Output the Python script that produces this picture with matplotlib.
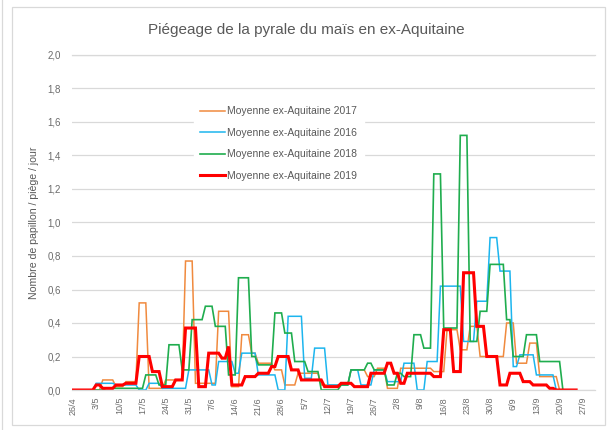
import numpy as np
import matplotlib
matplotlib.use("Agg")
import matplotlib.pyplot as plt
from matplotlib.lines import Line2D

plt.rcParams["font.family"] = ["Liberation Sans", "DejaVu Sans"]

N_DAYS = 153  # daily points from 26/4 onwards

tick_labels = ["26/4", "3/5", "10/5", "17/5", "24/5", "31/5", "7/6", "14/6",
               "21/6", "28/6", "5/7", "12/7", "19/7", "26/7", "2/8", "9/8",
               "16/8", "23/8", "30/8", "6/9", "13/9", "20/9", "27/9"]

# step series: day index where a new trap reading starts, and its value
starts_2017 = [0, 9, 13, 16, 20, 23, 28, 34, 37, 44, 48, 51, 54, 56, 61, 64, 68,
               75, 84, 89, 92, 95, 99, 109, 113, 117, 120, 123, 131, 134, 138,
               141, 147]
values_2017 = [0.0, 0.06, 0.02, 0.05, 0.52, 0.01, 0.06, 0.77, 0.04, 0.47, 0.02,
               0.33, 0.22, 0.16, 0.12, 0.03, 0.10, 0.03, 0.12, 0.08, 0.13, 0.01,
               0.13, 0.11, 0.36, 0.24, 0.38, 0.20, 0.40, 0.16, 0.28, 0.08, 0.0]

starts_2016 = [0, 7, 13, 20, 23, 27, 35, 42, 44, 49, 51, 56, 62, 65, 70, 73, 77,
               84, 87, 91, 95, 100, 104, 107, 111, 118, 122, 126, 129, 133, 135,
               140, 146]
values_2016 = [0.0, 0.04, 0.03, 0.0, 0.04, 0.01, 0.12, 0.03, 0.17, 0.10, 0.22,
               0.09, 0.0, 0.44, 0.07, 0.25, 0.03, 0.12, 0.03, 0.12, 0.05, 0.16,
               0.0, 0.17, 0.62, 0.29, 0.53, 0.91, 0.71, 0.14, 0.21, 0.09, 0.0]

starts_2018 = [0, 10, 22, 26, 29, 33, 36, 40, 43, 47, 50, 54, 56, 61, 64, 67, 71,
               75, 81, 84, 89, 91, 95, 98, 100, 103, 106, 109, 112, 117, 120,
               123, 126, 131, 133, 137, 141, 148]
values_2018 = [0.0, 0.01, 0.09, 0.03, 0.27, 0.12, 0.42, 0.50, 0.38, 0.09, 0.67,
               0.20, 0.15, 0.46, 0.34, 0.17, 0.11, 0.0, 0.03, 0.12, 0.16, 0.12,
               0.03, 0.10, 0.08, 0.33, 0.25, 1.29, 0.37, 1.52, 0.29, 0.47, 0.75,
               0.42, 0.20, 0.33, 0.17, 0.0]

starts_2019 = [0, 7, 9, 13, 16, 20, 24, 27, 31, 34, 38, 41, 45, 47, 48, 52, 56,
               60, 62, 66, 69, 76, 81, 85, 90, 95, 97, 99, 101, 109, 112, 115,
               118, 122, 125, 129, 132, 136, 139, 144, 146]
values_2019 = [0.0, 0.03, 0.01, 0.03, 0.04, 0.20, 0.11, 0.02, 0.06, 0.37, 0.02,
               0.22, 0.19, 0.26, 0.03, 0.08, 0.10, 0.14, 0.20, 0.12, 0.06, 0.02,
               0.04, 0.02, 0.10, 0.16, 0.10, 0.04, 0.10, 0.08, 0.36, 0.11, 0.70,
               0.38, 0.20, 0.03, 0.10, 0.05, 0.03, 0.01, 0.0]

series = [
    ("Moyenne ex-Aquitaine 2017", starts_2017, values_2017, "#F08A3E", 1.1),
    ("Moyenne ex-Aquitaine 2016", starts_2016, values_2016, "#1CB5EE", 1.1),
    ("Moyenne ex-Aquitaine 2018", starts_2018, values_2018, "#1FAD4E", 1.2),
    ("Moyenne ex-Aquitaine 2019", starts_2019, values_2019, "#FF0000", 2.2),
]


def daily(starts, values):
    """Hold each reading until the next one starts."""
    lengths = np.diff(starts + [N_DAYS])
    return np.repeat(values, lengths)


fig = plt.figure(figsize=(6.13, 4.30), dpi=100, facecolor="white")
ax = fig.add_axes([72 / 613, 1 - 390 / 430, 523 / 613, 335 / 430])

days = np.arange(N_DAYS)
for label, st, vals, color, lw in series:
    ax.plot(days, daily(st, vals), color=color, lw=lw, label=label,
            solid_joinstyle="miter")

ax.set_xlim(-0.3, 157.7)
ax.set_ylim(0, 2.0)
ax.set_yticks(np.arange(0, 2.01, 0.2))
ax.set_yticklabels([f"{v:.1f}".replace(".", ",") for v in np.arange(0, 2.01, 0.2)])
ax.set_xticks(np.arange(0, 7 * len(tick_labels), 7))
ax.set_xticklabels(tick_labels, rotation=90)
ax.tick_params(axis="y", length=0, pad=8, labelsize=7, labelcolor="#6b6b6b")
ax.tick_params(axis="x", length=0, pad=5, labelsize=6.5, labelcolor="#6b6b6b")
ax.grid(axis="y", color="#D9D9D9", lw=0.9)
ax.set_axisbelow(True)
for side in ["left", "right"]:
    ax.spines[side].set_visible(False)
for side in ["top", "bottom"]:
    ax.spines[side].set_color("#D9D9D9")
    ax.spines[side].set_linewidth(0.9)

ax.set_ylabel("Nombre de papillon / piège / jour", fontsize=7.6, color="#595959",
              labelpad=6)
fig.suptitle("Piégeage de la pyrale du maïs en ex-Aquitaine", y=1 - 30 / 430,
             va="center", fontsize=11, color="#595959")

leg = ax.legend(loc="upper left", bbox_to_anchor=(194 / 613, 1 - 100 / 430),
                bbox_transform=fig.transFigure, frameon=True, fontsize=7.5,
                handlelength=2.4, handletextpad=0.2, labelspacing=1.1,
                borderpad=0.6, borderaxespad=0)
leg.get_frame().set_facecolor("white")
leg.get_frame().set_edgecolor("white")
leg.get_frame().set_alpha(1.0)
for txt in leg.get_texts():
    txt.set_color("#595959")

# chart border + neighbouring panel edge
fig.add_artist(plt.Rectangle((12 / 613, 1 - 425 / 430), 593 / 613, 418 / 430,
                             fill=False, edgecolor="#D9D9D9", lw=0.9,
                             transform=fig.transFigure))
fig.add_artist(Line2D([2 / 613, 2 / 613], [0, 1], color="#D9D9D9", lw=0.9,
                      transform=fig.transFigure))

plt.savefig("out.png", dpi=100, facecolor="white")
plt.close()
